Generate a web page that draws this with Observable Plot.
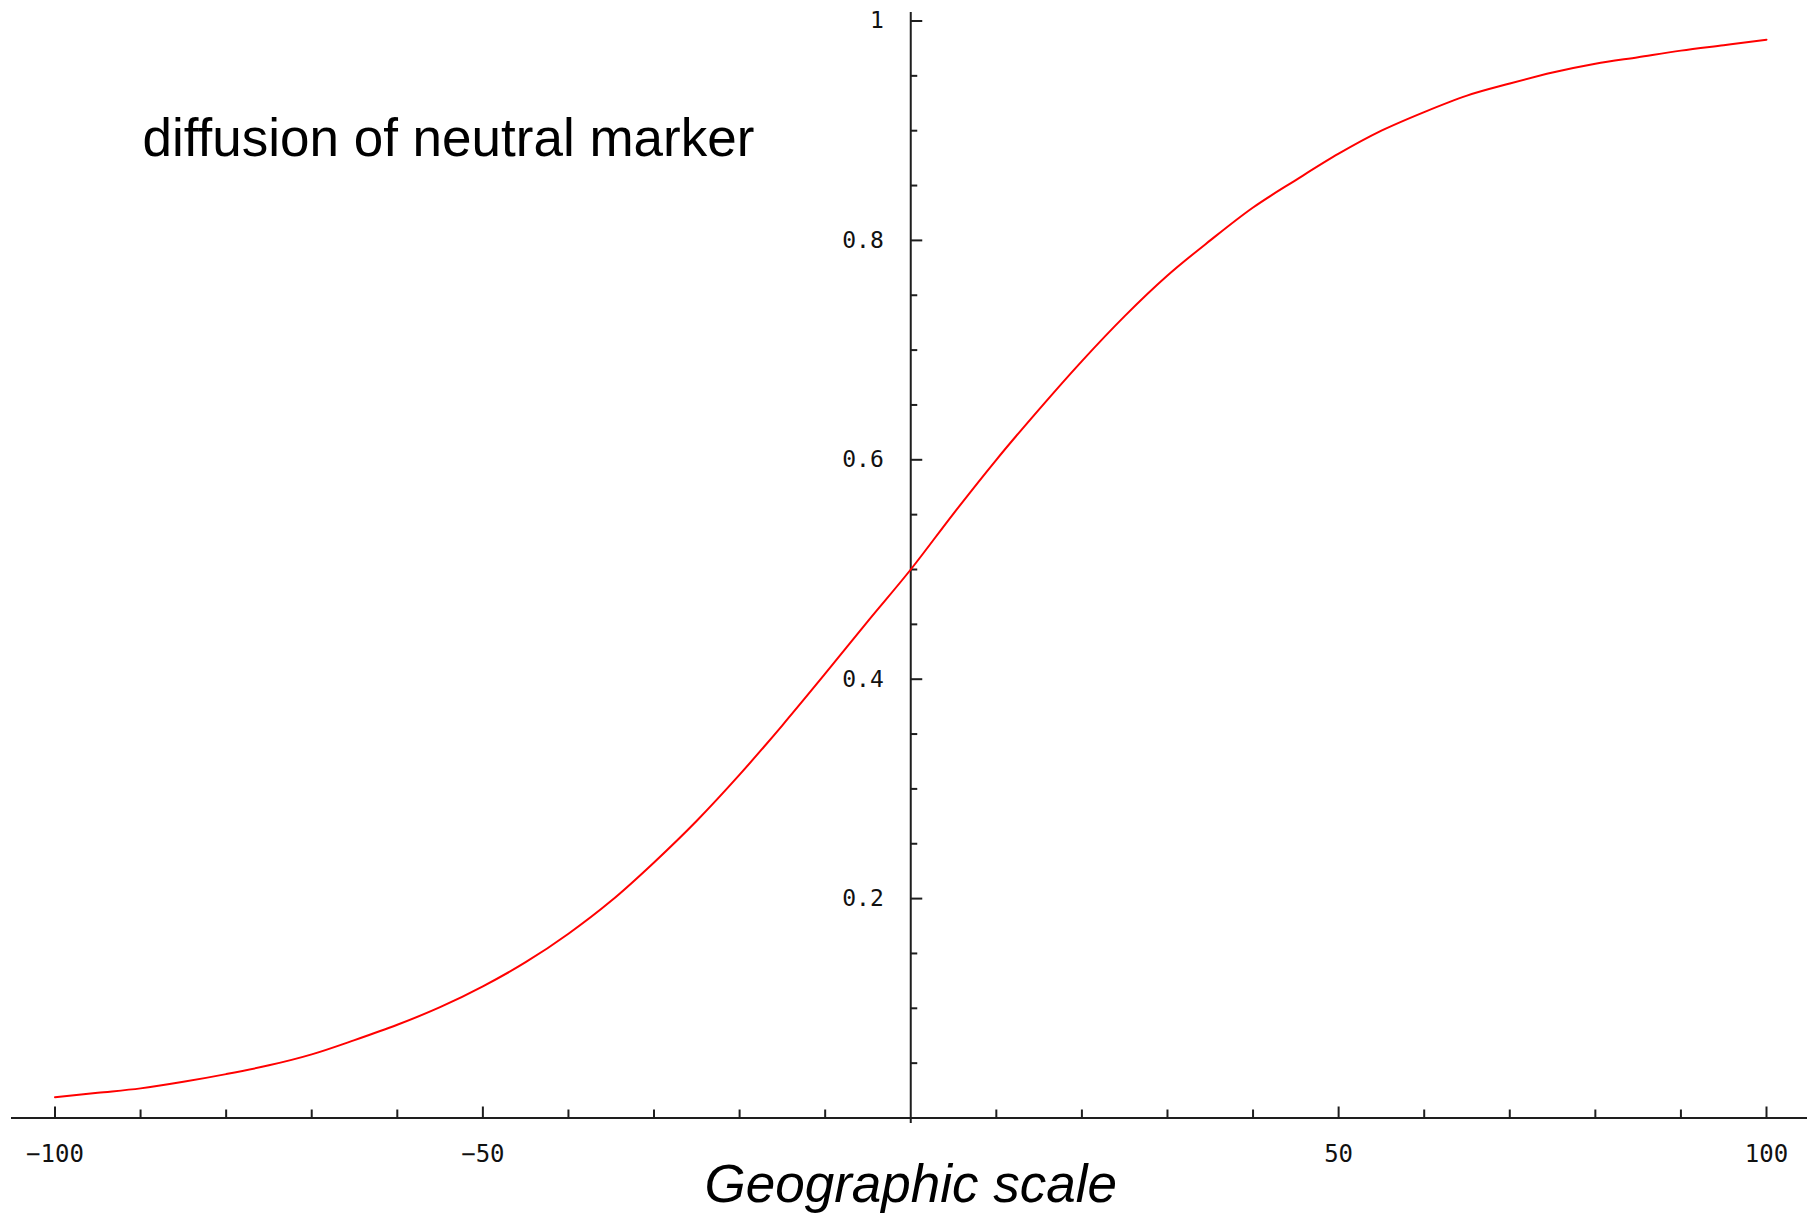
<!DOCTYPE html>
<html>
<head>
<meta charset="utf-8">
<script src="https://cdn.jsdelivr.net/npm/d3@7"></script>
<script src="https://cdn.jsdelivr.net/npm/@observablehq/plot@0.6"></script>
<style>
html, body { margin: 0; padding: 0; background: #ffffff; }
#chart { width: 1810px; height: 1217px; }
</style>
</head>
<body>
<div id="chart"></div>
<script>
// ---- data ----
const geoPosition = [-100, -95, -90, -85, -80, -75, -70, -65, -60, -55, -50, -45, -40, -35, -30, -25, -20, -15, -10, -5,
  0, 5, 10, 15, 20, 25, 30, 35, 40, 45, 50, 55, 60, 65, 70, 75, 80, 85, 90, 95, 100];
const markerFrequency = [0.019, 0.023, 0.027, 0.033, 0.040, 0.048, 0.058, 0.071, 0.085, 0.101, 0.120, 0.142, 0.168, 0.198, 0.233, 0.271, 0.313, 0.358, 0.405, 0.453,
  0.500, 0.551, 0.600, 0.646, 0.690, 0.731, 0.768, 0.800, 0.830, 0.855, 0.879, 0.900, 0.917, 0.932, 0.943, 0.953, 0.961, 0.967, 0.973, 0.978, 0.983];

const xTickValues = [-100, -90, -80, -70, -60, -50, -40, -30, -20, -10, 10, 20, 30, 40, 50, 60, 70, 80, 90, 100];
const xMajorTicks = [-100, -50, 50, 100];
const xTickLabels = ["\u2212100", "\u221250", "50", "100"];

const yTickValues = [0.05, 0.1, 0.15, 0.2, 0.25, 0.3, 0.35, 0.4, 0.45, 0.5, 0.55, 0.6, 0.65, 0.7, 0.75, 0.8, 0.85, 0.9, 0.95, 1];
const yMajorTicks = [0.2, 0.4, 0.6, 0.8, 1];
const yTickLabels = ["0.2", "0.4", "0.6", "0.8", "1"];

const chartTitle = "diffusion of neutral marker";
const xAxisTitle = "Geographic scale";

// ---- chart ----
const axisColor = "#1e1e1e";
const xMinorTicks = xTickValues.filter(d => !xMajorTicks.includes(d));
const yMinorTicks = yTickValues.filter(d => !yMajorTicks.includes(d));
const series = geoPosition.map((x, i) => ({x, y: markerFrequency[i]}));

const chart = Plot.plot({
  width: 1810,
  height: 1217,
  marginLeft: 11,
  marginRight: 3,
  marginTop: 12,
  marginBottom: 94,
  x: {domain: [-100, 100], range: [54.5, 1766], axis: null},
  y: {domain: [0, 1], range: [1117.5, 20.5], axis: null},
  style: {background: "#ffffff", overflow: "visible"},
  marks: [
    // axis lines
    Plot.ruleY([0], {stroke: axisColor, strokeWidth: 2}),
    Plot.ruleX([0], {stroke: axisColor, strokeWidth: 2}),
    // x ticks (pointing up)
    Plot.ruleX(xMinorTicks, {x: d => d, y1: 0, y2: 0, insetTop: -8, stroke: axisColor, strokeWidth: 2}),
    Plot.ruleX(xMajorTicks, {x: d => d, y1: 0, y2: 0, insetTop: -11, stroke: axisColor, strokeWidth: 2}),
    // y ticks (pointing right)
    Plot.ruleY(yMinorTicks, {y: d => d, x1: 0, x2: 0, insetRight: -7, stroke: axisColor, strokeWidth: 2}),
    Plot.ruleY(yMajorTicks, {y: d => d, x1: 0, x2: 0, insetRight: -12, stroke: axisColor, strokeWidth: 2}),
    // tick labels
    Plot.text(xMajorTicks, {
      x: d => d, y: 0, dy: 36, text: (d, i) => xTickLabels[i],
      fontFamily: "DejaVu Sans Mono", fontSize: 24, fill: "#111", textAnchor: "middle", lineAnchor: "middle"
    }),
    Plot.text(yMajorTicks, {
      x: 0, y: d => d, dx: -27, text: (d, i) => yTickLabels[i],
      fontFamily: "DejaVu Sans Mono", fontSize: 23, fill: "#111", textAnchor: "end", lineAnchor: "middle"
    }),
    // curve
    Plot.line(series, {x: "x", y: "y", stroke: "#ff0000", strokeWidth: 2, curve: "monotone-x"}),
    // titles
    Plot.text([chartTitle], {
      frameAnchor: "top-left", dx: 131, dy: 127, textAnchor: "start", lineAnchor: "middle",
      fontFamily: "Liberation Sans, Arial, sans-serif", fontSize: 53, fill: "#000"
    }),
    Plot.text([xAxisTitle], {
      x: 0, frameAnchor: "bottom", dy: 62, textAnchor: "middle", lineAnchor: "middle",
      fontFamily: "Liberation Sans, Arial, sans-serif", fontSize: 53, fontStyle: "italic", fill: "#000"
    })
  ]
});
document.getElementById("chart").appendChild(chart);
</script>
</body>
</html>
